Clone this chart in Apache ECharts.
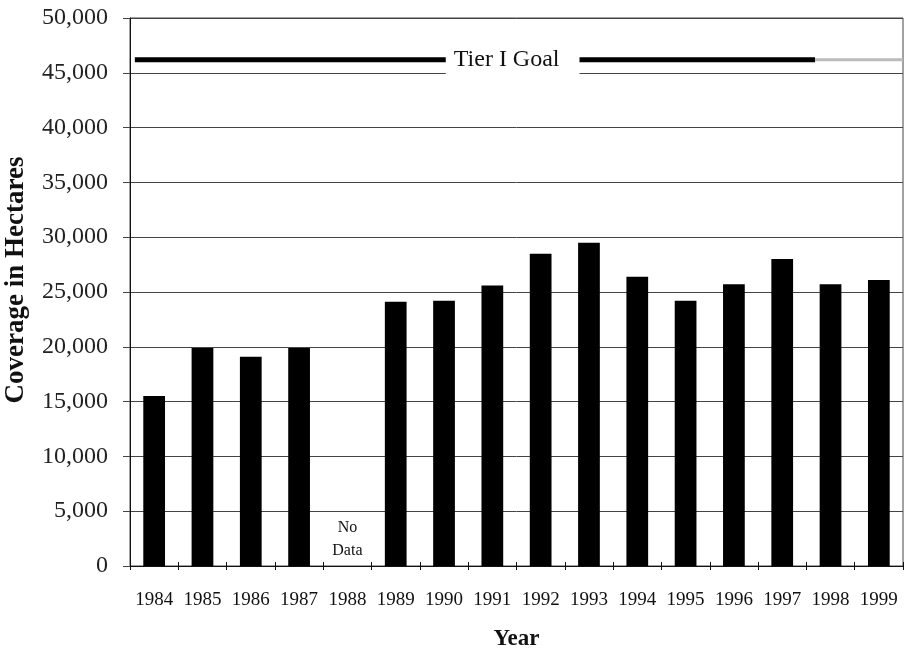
<!DOCTYPE html>
<html>
<head>
<meta charset="utf-8">
<script src="https://cdn.jsdelivr.net/npm/echarts@6/dist/echarts.min.js"></script>
<style>
  html, body { margin: 0; padding: 0; background: #fff; }
  #chart { width: 908px; height: 651px; }
</style>
</head>
<body>
<div id="chart"></div>
<script>
// Annual coverage (hectares); 1988 has no survey data
const years = ['1984','1985','1986','1987','1988','1989','1990','1991',
               '1992','1993','1994','1995','1996','1997','1998','1999'];
const coverage = [15500, 19900, 19100, 19900, null, 24100, 24200, 25600,
                  28500, 29500, 26400, 24200, 25700, 28000, 25700, 26100];
const yTicks = [0, 5000, 10000, 15000, 20000, 25000, 30000, 35000, 40000, 45000, 50000];
const goalLevel = 46200;
const goalLabel = 'Tier I Goal';
const missingYear = '1988';
const missingText = 'No\nData';

const serif = "'Liberation Serif', 'Times New Roman', serif";
const fmt = v => v.toLocaleString('en-US');

const chart = echarts.init(document.getElementById('chart'), null, { renderer: 'canvas' });

chart.setOption({
  backgroundColor: '#ffffff',
  animation: false,
  grid: {
    left: 130, right: 5, top: 18, bottom: 85,
    containLabel: false,
    outerBoundsMode: 'none',
    show: true, borderColor: '#444', borderWidth: 1, backgroundColor: 'transparent'
  },
  xAxis: [
    {
      type: 'category',
      data: years,
      name: 'Year',
      nameLocation: 'middle',
      nameGap: 62,
      nameTextStyle: { fontFamily: serif, fontWeight: 'bold', fontSize: 23, color: '#111' },
      axisLine: { lineStyle: { color: '#111', width: 1 } },
      axisTick: { show: true, length: 4, lineStyle: { color: '#111' } },
      axisLabel: { fontFamily: serif, fontSize: 19, color: '#111', margin: 25, interval: 0 },
      splitLine: { show: false }
    },
    {
      // fractional positions along the year axis, used by the goal line
      type: 'value', min: 0, max: 16, show: false
    },
    {
      // inner half of the boundary tick marks
      type: 'category',
      data: years,
      position: 'bottom',
      axisLine: { show: false },
      axisTick: { show: true, inside: true, length: 4, lineStyle: { color: '#111' } },
      axisLabel: { show: false },
      splitLine: { show: false }
    }
  ],
  yAxis: {
    type: 'value',
    min: yTicks[0],
    max: yTicks[yTicks.length - 1],
    interval: yTicks[1] - yTicks[0],
    name: 'Coverage in Hectares',
    nameLocation: 'middle',
    nameRotate: 90,
    nameGap: 100,
    nameTextStyle: {
      fontFamily: serif, fontWeight: 'bold', fontSize: 27, color: '#111',
      padding: [0, 0, 0, 24]
    },
    axisLine: { show: true, lineStyle: { color: '#111', width: 1 } },
    axisTick: { show: true, length: 7, lineStyle: { color: '#444' } },
    axisLabel: { fontFamily: serif, fontSize: 24, color: '#222', margin: 22, formatter: fmt },
    splitLine: { show: true, lineStyle: { color: '#444', width: 1 } }
  },
  series: [
    {
      type: 'bar',
      xAxisIndex: 0,
      data: coverage,
      barWidth: '45%',
      itemStyle: { color: '#000' },
      markPoint: {
        symbol: 'rect',
        symbolSize: 0,
        data: [{ coord: [missingYear, 0] }],
        label: {
          show: true, position: 'top', distance: 4,
          formatter: missingText,
          fontFamily: serif, fontSize: 16, lineHeight: 23, color: '#111'
        }
      }
    },
    {
      // Tier I goal line, solid black section
      type: 'line',
      xAxisIndex: 1,
      data: [[0.1, goalLevel], [14.18, goalLevel]],
      symbol: 'none',
      lineStyle: { color: '#000', width: 5 },
      z: 3
    },
    {
      // faded tail of the goal line
      type: 'line',
      xAxisIndex: 1,
      data: [[14.18, goalLevel], [16, goalLevel]],
      symbol: 'none',
      lineStyle: { color: '#bbb', width: 3 },
      z: 3
    },
    {
      type: 'scatter',
      xAxisIndex: 1,
      data: [[7.92, goalLevel]],
      symbolSize: 0,
      itemStyle: { opacity: 1 },
      z: 5,
      label: {
        show: true, position: 'inside', formatter: goalLabel,
        fontFamily: serif, fontSize: 24, color: '#111',
        backgroundColor: '#fff', padding: [6, 20, 6, 8]
      }
    }
  ]
});
</script>
</body>
</html>
